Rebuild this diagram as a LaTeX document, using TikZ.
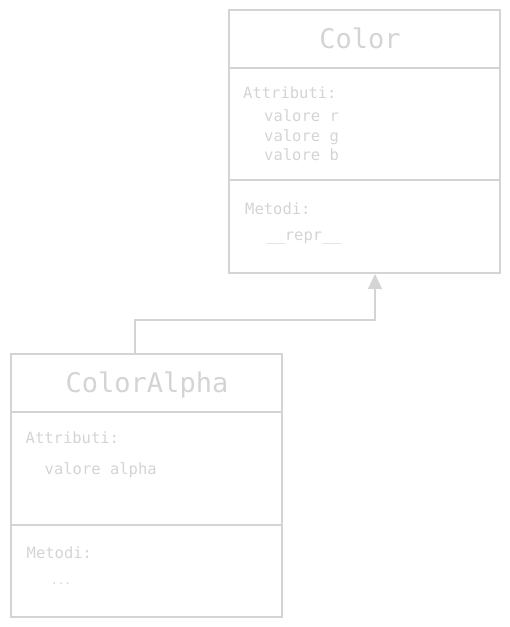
\documentclass[tikz,border=0pt]{standalone}
\usepackage{fontspec}
\setmonofont{DejaVu Sans Mono}
\usetikzlibrary{calc,arrows.meta}
\definecolor{linegray}{RGB}{212,212,212}
\definecolor{textgray}{RGB}{212,212,212}
\tikzset{
  classbox/.style={draw=linegray, line width=1.1pt, minimum width=271pt, minimum height=263pt, inner sep=0pt, outer sep=0pt},
  sep/.style={draw=linegray, line width=1.1pt},
  title/.style={anchor=base, text=textgray, font=\ttfamily\fontsize{27}{27}\selectfont, inner sep=0pt},
  body/.style={anchor=base west, text=textgray, font=\ttfamily\fontsize{15.5}{20}\selectfont, inner sep=0pt},
  small/.style={anchor=base west, text=textgray, font=\ttfamily\fontsize{11}{13}\selectfont, inner sep=0pt},
  inherit/.style={draw=linegray, line width=1.1pt, -{Triangle[width=14pt,length=15pt,fill=linegray]}}
}
\begin{document}
\begin{tikzpicture}[x=1pt,y=1pt]
\useasboundingbox (0,0) rectangle (510,-627);
% Color class
\node[classbox] (color) at (364.5,-141.5) {};
\draw[sep] (229,-68) coordinate (c1a) -- (500,-68) coordinate (c1b);
\draw[sep] (229,-180) coordinate (c2a) -- (500,-180) coordinate (c2b);
\node[title] (colort) at (360,-48) {Color};
\node[body] (ca1) at (243,-98) {Attributi:};
\node[body] (ca2) at (264,-121) {valore r};
\node[body] (ca3) at (264,-141) {valore g};
\node[body] (ca4) at (264,-160) {valore b};
\node[body] (cm1) at (245,-214) {Metodi:};
\node[body] (cm2) at (266,-240) {\_\_repr\_\_};
% ColorAlpha class
\node[classbox] (alpha) at (146.5,-485.5) {};
\draw[sep] (11,-412) coordinate (a1a) -- (282,-412) coordinate (a1b);
\draw[sep] (11,-525) coordinate (a2a) -- (282,-525) coordinate (a2b);
\node[title] (alphat) at (147,-392) {ColorAlpha};
\node[body] (aa1) at (25.5,-443) {Attributi:};
\node[body] (aa2) at (44.5,-474) {valore alpha};
\node[body] (am1) at (26.5,-558) {Metodi:};
\node[small] (am2) at (51,-584) {...};
% inheritance
\coordinate (from) at ($(alpha.north west)+(124,0)$);
\coordinate (to) at ($(color.south west)+(146,-1)$);
\draw[inherit] (from) |- ($(to)+(0,-46)$) -- (to);
\end{tikzpicture}
\end{document}
